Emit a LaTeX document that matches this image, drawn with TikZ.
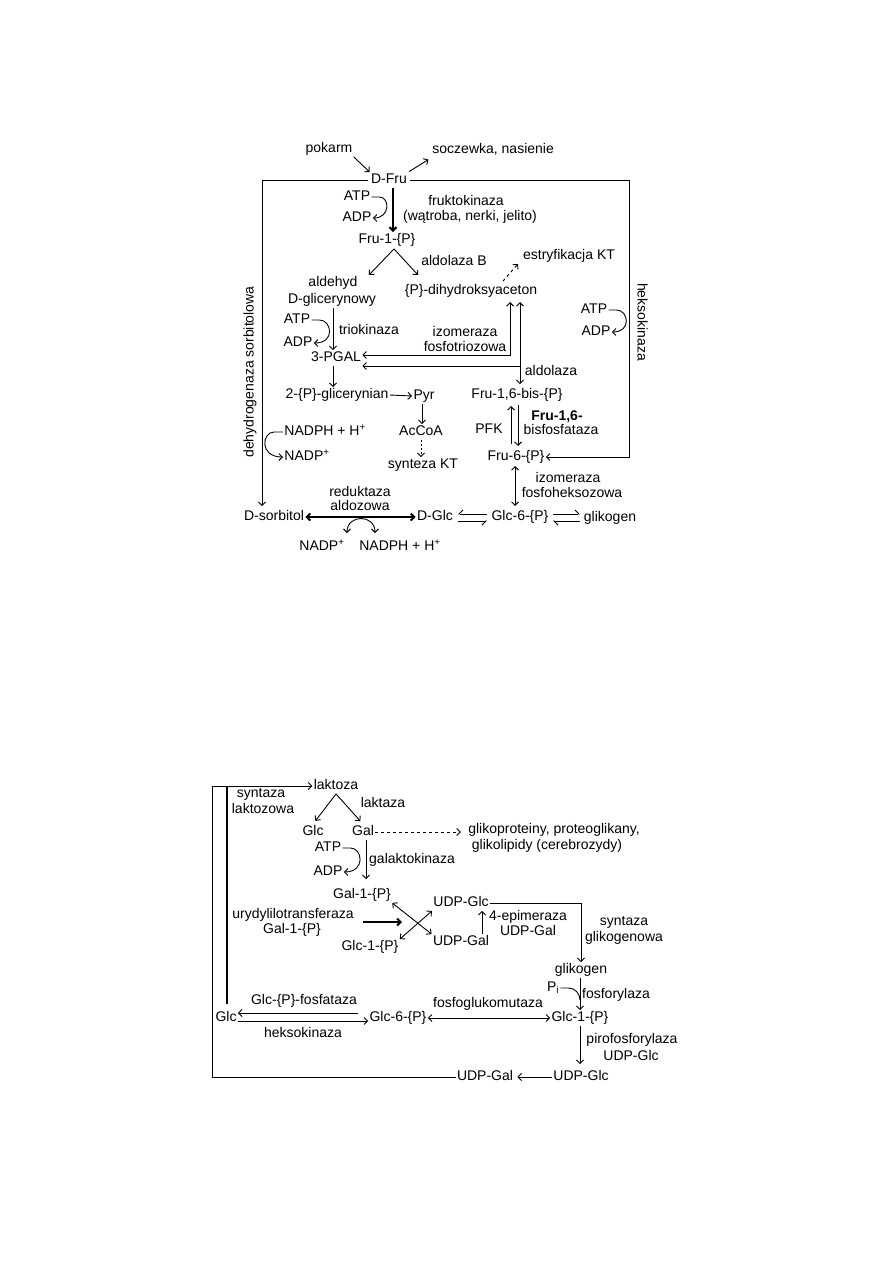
\documentclass[tikz,border=0pt]{standalone}
\usepackage{fontspec}
\setmainfont{Liberation Sans}
\usetikzlibrary{arrows.meta}
\begin{document}
\begin{tikzpicture}[x=1pt,y=-1pt,
  every node/.style={font=\fontsize{14pt}{16pt}\selectfont, inner sep=1pt, text height=10pt, text depth=3pt},
  line width=0.9pt,
  >={Straight Barb[length=3.5pt,width=7pt]},
  tk/.style={line width=2pt},
  hl/.style={-{Straight Barb[left,length=4pt,width=8pt]}},
  hr/.style={-{Straight Barb[right,length=4pt,width=8pt]}},
  dsh/.style={dash pattern=on 3pt off 3pt}
]
\fill[white] (0,0) rectangle (893,1263);
\useasboundingbox (0,0) rectangle (893,1263);

% ================= TOP DIAGRAM =================
\node (pokarm) at (329,149) {pokarm};
\node[anchor=west] (socz) at (431,150) {soczewka, nasienie};
\node (dfru) at (389,180) {D-Fru};
\node (atp1) at (357,197) {ATP};
\node (adp1) at (357,218) {ADP};
\node (fruk) at (466,202) {fruktokinaza};
\node (watr) at (470,217) {(wątroba, nerki, jelito)};
\node (fru1p) at (387,240) {Fru-1-\{P\}};
\node (aldB) at (454,262) {aldolaza B};
\node (estr) at (569,256) {estryfikacja KT};
\node (ald1) at (333,283) {aldehyd};
\node (ald2) at (332,300) {D-glicerynowy};
\node (dhap) at (471,291) {\{P\}-dihydroksyaceton};
\node (atp2) at (297,320) {ATP};
\node (adp2) at (298,343) {ADP};
\node (trio) at (369,331) {triokinaza};
\node (izo1) at (465,333) {izomeraza};
\node (izo2) at (465,348) {fosfotriozowa};
\node (pgal) at (336,358) {3-PGAL};
\node (aldol) at (551,372) {aldolaza};
\node (glic) at (337,395) {2-\{P\}-glicerynian};
\node (pyr) at (424,396) {Pyr};
\node (accoa) at (421,432) {AcCoA};
\node (synKT) at (423,465) {synteza KT};
\node[anchor=west] (nadph1) at (283,432) {NADPH + H\textsuperscript{+}};
\node[anchor=west] (nadp1) at (283,457) {NADP\textsuperscript{+}};
\node (fbp) at (517,395) {Fru-1,6-bis-\{P\}};
\node (pfk) at (489,430) {PFK};
\node (fbpase1) at (557,417) {\textbf{Fru-1,6-}};
\node (fbpase2) at (561,431) {bisfosfataza};
\node (f6p) at (516,457) {Fru-6-\{P\}};
\node (izo3) at (568,479) {izomeraza};
\node (izo4) at (572,494) {fosfoheksozowa};
\node (sorb) at (274,517) {D-sorbitol};
\node (red1) at (360,493) {reduktaza};
\node (red2) at (360,507) {aldozowa};
\node (dglc) at (435,517) {D-Glc};
\node (g6p) at (520,517) {Glc-6-\{P\}};
\node (glikogen1) at (610,518) {glikogen};
\node (nadp2) at (322,547) {NADP\textsuperscript{+}};
\node (nadph2) at (400,547) {NADPH + H\textsuperscript{+}};
\node (atp3) at (594,310) {ATP};
\node (adp3) at (596,332) {ADP};
\node[rotate=-90] (heks1) at (641,322) {heksokinaza};
\node[rotate=90] (dehyd) at (250,372) {dehydrogenaza sorbitolowa};

\coordinate (tl) at (262,180);
\coordinate (tr) at (629,180);
\coordinate (dfw) at ([xshift=-2pt]dfru.west);
\coordinate (dfe) at ([xshift=2pt]dfru.east);
\draw[->,shorten >=3pt] (dfw) -- (tl) -- (tl |- sorb.north);
\draw[->] (dfe) -- (tr) -- (tr |- f6p.east) -- (f6p.east);

\draw[->] (pokarm.south east) -- (dfru.north west);
\draw[->,shorten <=1pt,shorten >=3pt] (dfru.north east) -- (socz.south west);

\coordinate (fa) at ([xshift=4pt]dfru.south);
\coordinate (fb) at ([xshift=6pt]fru1p.north);
\draw[tk,->] (fa) -- (fb);
\draw[->] (atp1.east) -- ++(8,0) .. controls +(10,0) and +(18,0) .. (adp1.east);

\coordinate (ap1) at ([xshift=7pt,yshift=-1pt]fru1p.south);
\coordinate (cl1) at (369,275);
\coordinate (cr1) at (418,275);
\draw[->] (ap1) -- (cl1);
\draw[->] (ap1) -- (cr1);

\coordinate (ds1) at ([xshift=32pt,yshift=2pt]dhap.north);
\coordinate (ds2) at ([xshift=-51pt]estr.south);
\draw[->,dsh] (ds1) -- (ds2);

\coordinate (a1) at ([xshift=1pt]ald2.south);
\draw[->] (a1) -- (a1 |- pgal.north);
\draw[->] (atp2.east) -- ++(8,0) .. controls +(12,0) and +(22,0) .. (adp2.east);

\coordinate (v1) at (510,302);
\coordinate (v2) at (520,302);
\coordinate (pg1) at ([yshift=3pt]pgal.east);
\coordinate (pg2) at ([yshift=-8pt]pgal.east);
\draw[<->] (v1) |- (pg1);
\draw[<->] (v2) |- (pg2);
\coordinate (j1) at (520,366);
\draw[->,shorten >=3pt] (j1) -- (j1 |- fbp.north);

\coordinate (p1) at ([xshift=-3pt]pgal.south);
\draw[->] (p1) -- (p1 |- glic.north);
\draw[->] (glic.east) -- (pyr.west);
\coordinate (py1) at ([xshift=-2pt]pyr.south);
\draw[->] (py1) -- (py1 |- accoa.north);
\draw[->,dash pattern=on 2pt off 2pt] (accoa.south) -- (accoa.south |- synKT.north);
\draw[->] (nadph1.west) -- ++(-9,0) .. controls +(-12,0) and +(-24,0) .. (nadp1.west);

\coordinate (pf1) at (511,444);
\coordinate (pf2) at (511,406);
\coordinate (pf3) at (518,405);
\coordinate (pf4) at (518,446);
\draw[->] (pf1) -- (pf2);
\draw[->] (pf3) -- (pf4);
\coordinate (iz1) at (515,466);
\coordinate (iz2) at (515,506);
\draw[<->] (iz1) -- (iz2);

\draw[tk,<->] (sorb.east) -- (dglc.west);
\coordinate (ar1) at (347,533);
\coordinate (ar2) at (375,533);
\draw[<->] (ar1) .. controls (347,514) and (375,514) .. (ar2);

\coordinate (h1a) at (487,514);
\coordinate (h1b) at (458,514);
\coordinate (h2a) at (458,521);
\coordinate (h2b) at (487,521);
\draw[hr] (h1a) -- (h1b);
\draw[hr] (h2a) -- (h2b);
\coordinate (h3a) at (553,514);
\coordinate (h3b) at (580,514);
\coordinate (h4a) at (580,521);
\coordinate (h4b) at (553,521);
\draw[hl] (h3a) -- (h3b);
\draw[hl] (h4a) -- (h4b);

\draw[->] (atp3.east) -- ++(8,0) .. controls +(12,0) and +(20,0) .. (adp3.east);

% ================= BOTTOM DIAGRAM =================
\node (lak) at (336,786) {laktoza};
\node (syn1) at (261,794) {syntaza};
\node (syn2) at (263,810) {laktozowa};
\node (laktaza) at (383,804) {laktaza};
\node (glcA) at (313,832) {Glc};
\node (gal) at (363,832) {Gal};
\node (gp1) at (554,830) {glikoproteiny, proteoglikany,};
\node (gp2) at (547,846) {glikolipidy (cerebrozydy)};
\node (atp4) at (328,848) {ATP};
\node (adp4) at (328,872) {ADP};
\node (galk) at (412,860) {galaktokinaza};
\node (gal1p) at (362,895) {Gal-1-\{P\}};
\node (uryd1) at (293,915) {urydylilotransferaza};
\node (uryd2) at (292,930) {Gal-1-\{P\}};
\node (glc1pA) at (370,947) {Glc-1-\{P\}};
\node (udpglcA) at (461,903) {UDP-Glc};
\node (udpgalA) at (461,942) {UDP-Gal};
\node (epi1) at (528,917) {4-epimeraza};
\node (epi2) at (528,932) {UDP-Gal};
\node (syg1) at (624,922) {syntaza};
\node (syg2) at (624,938) {glikogenowa};
\node (glikogen2) at (581,970) {glikogen};
\node (pi) at (553,988) {P\textsubscript{i}};
\node (fosfo) at (616,995) {fosforylaza};
\node (glcB) at (226,1018) {Glc};
\node (gfos) at (304,1001) {Glc-\{P\}-fosfataza};
\node (heks2) at (303,1034) {heksokinaza};
\node (g6pB) at (398,1018) {Glc-6-\{P\}};
\node (fgm) at (488,1004) {fosfoglukomutaza};
\node (g1pB) at (580,1018) {Glc-1-\{P\}};
\node (piro1) at (632,1040) {pirofosforylaza};
\node (piro2) at (631,1057) {UDP-Glc};
\node (udpglcB) at (581,1077) {UDP-Glc};
\node (udpgalB) at (485,1077) {UDP-Gal};

\coordinate (bl) at (212,1077);
\draw[->] (udpgalB.west) -- (udpgalB.west -| bl) -- (bl |- lak.west) -- (lak.west);
\coordinate (th) at (227,786);
\draw[tk,shorten >=6pt] (th) -- (th |- glcB.north);

\draw[->,shorten >=4pt] (lak.south) -- (glcA.north);
\draw[->,shorten >=4pt] (lak.south) -- (gal.north);
\draw[->,dsh,shorten >=6pt] (gal.east) -- (gal.east -| gp1.west);
\coordinate (g1) at ([xshift=3pt]gal.south);
\draw[->,shorten >=8pt] (g1) -- (g1 |- gal1p.north);
\draw[->] (atp4.east) -- ++(8,0) .. controls +(12,0) and +(22,0) .. (adp4.east);

\coordinate (ut1) at (363,922);
\coordinate (ut2) at (402,922);
\draw[tk,->] (ut1) -- (ut2);
\draw[<->] (gal1p.south east) -- (udpgalA.north west);
\draw[<->] (glc1pA.north east) -- (udpglcA.south west);
\coordinate (e1) at ([xshift=21pt]udpgalA.north);
\draw[->] (e1) -- (e1 |- udpglcA.south);
\draw[->] (udpglcA.east) -- (udpglcA.east -| glikogen2.north) -- (glikogen2.north);

\coordinate (gk1) at ([xshift=-1pt]glikogen2.south);
\draw[->] (gk1) -- (gk1 |- g1pB.north);
\coordinate (piEnd) at (580,1000);
\draw (pi.east) -- ++(8,0) .. controls +(7,0) and +(0,-6) .. (piEnd);

\coordinate (gb1) at ([yshift=5pt]g6pB.west);
\coordinate (gb2) at ([yshift=-3pt]g6pB.west);
\draw[->,shorten <=10pt] (gb1) -- (gb1 -| glcB.east);
\draw[<-] (gb2) -- (gb2 -| glcB.east);
\draw[<->] (g6pB.east) -- (g1pB.west);
\coordinate (gp1s) at (g1pB.south);
\draw[->,shorten >=5pt] (gp1s) -- (gp1s |- udpglcB.north);
\draw[->,shorten >=3pt] (udpglcB.west) -- (udpgalB.east);
\end{tikzpicture}
\end{document}
